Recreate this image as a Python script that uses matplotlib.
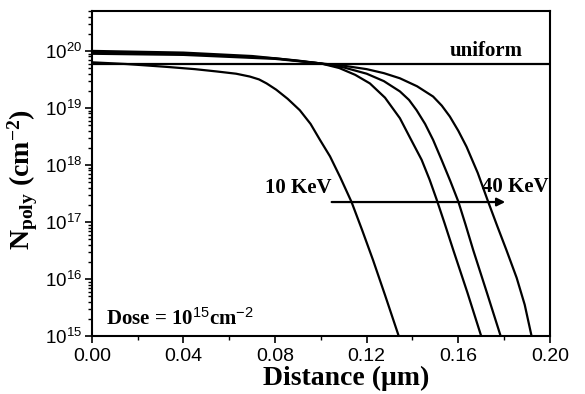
import numpy as np
import matplotlib.pyplot as plt
from matplotlib.ticker import LogLocator, MultipleLocator, FixedLocator

plt.rcParams['font.family'] = ['Liberation Sans', 'DejaVu Sans']
plt.rcParams['mathtext.fontset'] = 'custom'
plt.rcParams['mathtext.rm'] = 'Liberation Sans'
plt.rcParams['mathtext.bf'] = 'Liberation Serif:bold'
plt.rcParams['mathtext.it'] = 'Liberation Sans:italic'

# distance (um) / log10 of concentration
x_10kev = [0.0, 0.015, 0.0326, 0.045, 0.0544, 0.063, 0.069, 0.073, 0.0763, 0.0805, 0.0855,
           0.0908, 0.0955, 0.0996, 0.104, 0.1085, 0.1134, 0.118, 0.1228, 0.128, 0.134]
y_10kev = [19.80, 19.77, 19.72, 19.68, 19.64, 19.60, 19.55, 19.50, 19.43, 19.32, 19.16,
           18.96, 18.72, 18.44, 18.15, 17.78, 17.35, 16.86, 16.33, 15.72, 15.0]

x_20kev = [0.0, 0.04, 0.07, 0.09, 0.10, 0.108, 0.115, 0.1214, 0.128, 0.1345, 0.1389,
           0.144, 0.1475, 0.1505, 0.154, 0.1578, 0.164, 0.170]
y_20kev = [20.0, 19.97, 19.91, 19.83, 19.78, 19.70, 19.58, 19.43, 19.18, 18.82, 18.48,
           18.09, 17.74, 17.40, 16.98, 16.51, 15.76, 15.0]

x_30kev = [0.0, 0.04, 0.08, 0.10, 0.11, 0.12, 0.1275, 0.1345, 0.1385, 0.1418, 0.1455,
           0.149, 0.1527, 0.1565, 0.160, 0.1632, 0.1665, 0.1725, 0.1785]
y_30kev = [19.98, 19.95, 19.87, 19.78, 19.71, 19.60, 19.47, 19.29, 19.14, 18.96, 18.72,
           18.44, 18.09, 17.72, 17.36, 16.95, 16.51, 15.76, 15.0]

x_40kev = [0.0, 0.04, 0.08, 0.10, 0.11, 0.12, 0.1275, 0.1345, 0.142, 0.149, 0.1528,
           0.1563, 0.160, 0.1636, 0.1685, 0.173, 0.177, 0.181, 0.1855, 0.189, 0.192]
y_40kev = [19.95, 19.93, 19.86, 19.78, 19.74, 19.68, 19.61, 19.52, 19.38, 19.20, 19.04,
           18.85, 18.60, 18.32, 17.86, 17.36, 16.93, 16.51, 16.02, 15.55, 15.0]

uniform_level = 6.0e19
arrow_x = [0.1035, 0.1817]
arrow_y = 2.24e17

fig = plt.figure(figsize=(5.85, 3.94), dpi=100)
ax = fig.add_axes([0.157, 0.147, 0.783, 0.825])

for xs, ys in [(x_10kev, y_10kev), (x_20kev, y_20kev), (x_30kev, y_30kev), (x_40kev, y_40kev)]:
    ax.plot(xs, 10 ** np.array(ys), color='black', lw=1.6, solid_joinstyle='round')
ax.axhline(uniform_level, color='black', lw=1.6)

ax.set_yscale('log')
ax.set_xlim(0, 0.20)
ax.set_ylim(1e15, 5e20)
ax.xaxis.set_major_locator(MultipleLocator(0.04))
ax.xaxis.set_minor_locator(MultipleLocator(0.02))
ax.xaxis.set_major_formatter(plt.FuncFormatter(lambda v, p: f'{v:.2f}'))
ax.yaxis.set_major_locator(FixedLocator([10.0 ** k for k in range(15, 21)]))
ax.yaxis.set_minor_locator(LogLocator(base=10, subs=np.arange(2, 10), numticks=20))
ax.yaxis.set_major_formatter(plt.FuncFormatter(lambda v, p: r'$10^{%d}$' % round(np.log10(v))))

ax.tick_params(which='both', direction='out', top=False, right=False, labelsize=14)
ax.tick_params(axis='y', labelsize=13.5, pad=2)
ax.tick_params(which='major', length=5, width=1.2)
ax.tick_params(which='minor', length=3, width=1.0)
for s in ax.spines.values():
    s.set_linewidth(1.5)

ax.set_xlabel('Distance (μm)', family='Liberation Serif', fontweight='bold', fontsize=20)
ax.xaxis.set_label_coords(0.556, -0.092)
ax.set_ylabel(r'$\mathbf{N_{poly}}$ $\mathbf{(cm^{-2})}$', fontsize=20)
ax.yaxis.set_label_coords(-0.113, 0.48)

serif = dict(family='Liberation Serif', fontweight='bold', fontsize=15)
ax.text(0.172, 8.2e19, 'uniform', ha='center', va='baseline', **serif)
ax.text(0.090, 3.2e17, '10 KeV', ha='center', va='baseline', **serif)
ax.text(0.1848, 3.4e17, '40 KeV', ha='center', va='baseline', **serif)
ax.text(0.006, 1.55e15, r'Dose = 10$^{15}$cm$^{-2}$', ha='left', va='baseline',
        family='Liberation Serif', fontweight='bold', fontsize=15)

ax.annotate('', xy=(arrow_x[1], arrow_y), xytext=(arrow_x[0], arrow_y),
            arrowprops=dict(arrowstyle='-|>', color='black', lw=1.6, mutation_scale=12))

fig.savefig('out.png', dpi=100)
